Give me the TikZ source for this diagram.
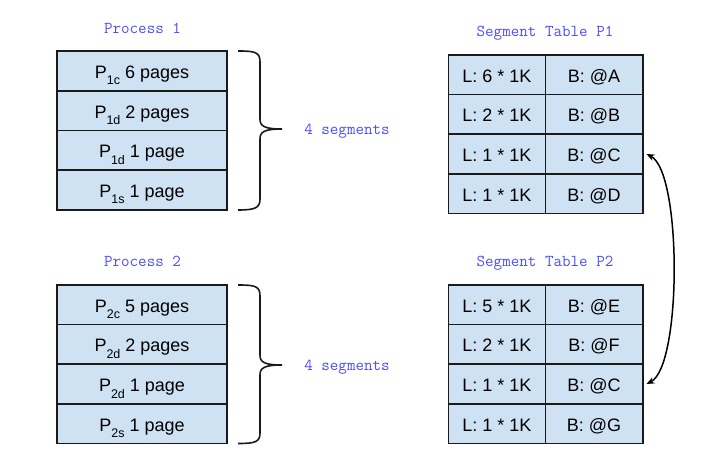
\documentclass[tikz,border=0pt]{standalone}
\usepackage{fontspec}
\setmainfont{Liberation Sans}
\usetikzlibrary{arrows.meta}
\definecolor{cellfill}{HTML}{CFE2F3}
\definecolor{labelblue}{HTML}{4D4DFF}
\definecolor{edgeline}{HTML}{1A1A1A}
% lowered, smaller index after the segment letter P
\newcommand{\segsub}[1]{\raisebox{-6.5pt}{\fontsize{12.5}{12.5}\selectfont #1}}
\begin{document}
\begin{tikzpicture}[x=1pt, y=-1pt,
  cell/.style={draw=edgeline, line width=1.6pt, fill=cellfill,
    minimum width=170.5pt, minimum height=39.6pt, inner sep=0pt,
    text height=15pt, text depth=0pt, font=\fontsize{18}{18}\selectfont},
  tcell/.style={cell, minimum width=97.2pt},
  title/.style={text=labelblue, anchor=base, inner sep=0pt,
    font=\ttfamily\fontsize{16.6}{16.6}\selectfont},
  brace/.style={draw=edgeline, line width=1.6pt},
  link/.style={draw=black, line width=1.5pt,
    {Stealth[length=8pt,width=6.5pt]}-{Stealth[length=8pt,width=6.5pt]}}]
\useasboundingbox (0,0) rectangle (725,449);

% Process 1
\node[title] (h1) at (142.5,33.3) {Process 1};
\node[cell] (p1a) at (142,70.85)  {P\segsub{1c} 6 pages};
\node[cell] (p1b) at (142,110.55) {P\segsub{1d} 2 pages};
\node[cell] (p1c) at (142,150.25) {P\segsub{1d} 1 page};
\node[cell] (p1d) at (142,189.95) {P\segsub{1s} 1 page};

% Process 2
\node[title] (h2) at (142.5,266.7) {Process 2};
\node[cell] (p2a) at (142,304.8) {P\segsub{2c} 5 pages};
\node[cell] (p2b) at (142,344.4) {P\segsub{2d} 2 pages};
\node[cell] (p2c) at (142,384.0) {P\segsub{2d} 1 page};
\node[cell] (p2d) at (142,423.6) {P\segsub{2s} 1 page};

% Braces and segment counts
\draw[brace] (238,51) .. controls (255,51) and (260,52) .. (260,62) -- (260,119)
  .. controls (260,126) and (264,129) .. (282,129)
  .. controls (264,129) and (260,132) .. (260,139) -- (260,199)
  .. controls (260,208) and (255,210) .. (238,210);
\node[title] (s1) at (347,135) {4 segments};
\draw[brace] (238,285) .. controls (255,285) and (260,286) .. (260,296) -- (260,355)
  .. controls (260,362) and (264,365) .. (282,365)
  .. controls (264,365) and (260,368) .. (260,375) -- (260,433)
  .. controls (260,442) and (255,443.5) .. (238,443.5);
\node[title] (s2) at (347,370) {4 segments};

% Segment table P1
\node[title] (t1) at (545,36.7) {Segment Table P1};
\node[tcell] (t1l1) at (496.9,74.8)  {L: 6 * 1K};
\node[tcell] (t1b1) at (594.1,74.8)  {B: @A};
\node[tcell] (t1l2) at (496.9,114.4) {L: 2 * 1K};
\node[tcell] (t1b2) at (594.1,114.4) {B: @B};
\node[tcell] (t1l3) at (496.9,154.0) {L: 1 * 1K};
\node[tcell] (t1b3) at (594.1,154.0) {B: @C};
\node[tcell] (t1l4) at (496.9,193.6) {L: 1 * 1K};
\node[tcell] (t1b4) at (594.1,193.6) {B: @D};

% Segment table P2
\node[title] (t2) at (545,266.7) {Segment Table P2};
\node[tcell] (t2l1) at (496.9,304.8) {L: 5 * 1K};
\node[tcell] (t2b1) at (594.1,304.8) {B: @E};
\node[tcell] (t2l2) at (496.9,344.4) {L: 2 * 1K};
\node[tcell] (t2b2) at (594.1,344.4) {B: @F};
\node[tcell] (t2l3) at (496.9,384.0) {L: 1 * 1K};
\node[tcell] (t2b3) at (594.1,384.0) {B: @C};
\node[tcell] (t2l4) at (496.9,423.6) {L: 1 * 1K};
\node[tcell] (t2b4) at (594.1,423.6) {B: @G};

% Shared segment @C
\draw[link] ([xshift=3pt]t1b3.east) .. controls (682,172) and (682,366) .. ([xshift=3pt]t2b3.east);
\end{tikzpicture}
\end{document}
